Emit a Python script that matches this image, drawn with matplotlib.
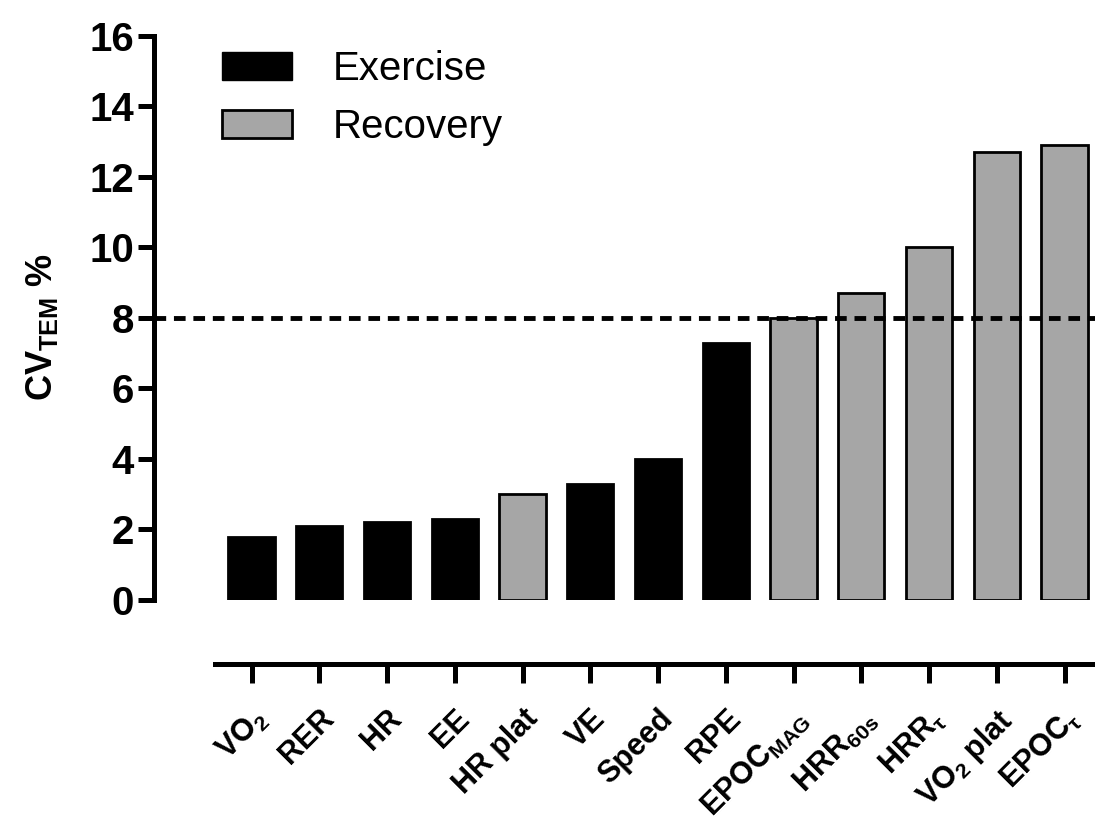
import matplotlib
matplotlib.use("Agg")
import matplotlib.pyplot as plt
from matplotlib.patches import Patch
import numpy as np

# CV (TEM %) for each measure, sorted as in the figure
labels = ["VO$_2$", "RER", "HR", "EE", "HR plat", "VE", "Speed", "RPE",
          "EPOC$_{MAG}$", "HRR$_{60s}$", "HRR$_\\tau$", "VO$_2$ plat", "EPOC$_\\tau$"]
values = [1.8, 2.1, 2.2, 2.3, 3.0, 3.3, 4.0, 7.3, 8.0, 8.7, 10.0, 12.7, 12.9]
phase = ["Exercise", "Exercise", "Exercise", "Exercise", "Recovery", "Exercise",
         "Exercise", "Exercise", "Recovery", "Recovery", "Recovery", "Recovery", "Recovery"]
threshold = 8

plt.rcParams["font.family"] = ["Liberation Sans", "DejaVu Sans"]
plt.rcParams["mathtext.fontset"] = "custom"
plt.rcParams["mathtext.rm"] = "Liberation Sans:bold"
plt.rcParams["mathtext.bf"] = "Liberation Sans:bold"
plt.rcParams["mathtext.it"] = "Liberation Sans:italic"
plt.rcParams["mathtext.default"] = "bf"

colors = {"Exercise": "black", "Recovery": "#a6a6a6"}

fig = plt.figure(figsize=(10.95, 8.27), dpi=100)
ax = fig.add_axes([0.1406, 0.2745, 0.8594, 0.682])

x = np.arange(len(values))
ax.bar(x, values, width=0.68, color=[colors[p] for p in phase],
       edgecolor="black", linewidth=2, zorder=2)
ax.axhline(threshold, color="black", linestyle=(0, (2.4, 1.6)), linewidth=3.5, zorder=3)

ax.set_xlim(-1.44, 12.45)
ax.set_ylim(0, 16)
ax.set_yticks(np.arange(0, 17, 2))
for lab in ax.get_yticklabels():
    lab.set_fontweight("bold")
ax.tick_params(axis="y", labelsize=29, width=3.6, length=11.5, pad=3)

ax.spines["top"].set_visible(False)
ax.spines["right"].set_visible(False)
ax.spines["left"].set_linewidth(3.6)
ax.spines["bottom"].set_linewidth(3.6)
ax.spines["bottom"].set_position(("outward", 46))
ax.spines["bottom"].set_bounds(-0.54, 12.45)

ax.set_xticks(x)
ax.set_xticklabels(labels, rotation=45, ha="right", rotation_mode="anchor",
                   fontsize=22, fontweight="bold")
ax.tick_params(axis="x", width=3.6, length=13.7, pad=15)

ax.set_ylabel(r"CV$_{TEM}$ %", fontsize=26, fontweight="bold")
ax.yaxis.set_label_coords(-0.1, 0.484)

handles = [Patch(facecolor="black", edgecolor="black", label="Exercise"),
           Patch(facecolor=colors["Recovery"], edgecolor="black", linewidth=2, label="Recovery")]
ax.legend(handles=handles, loc="upper left", bbox_to_anchor=(222 / 1095, 1 - 50 / 827),
          bbox_transform=fig.transFigure, frameon=False, borderpad=0, borderaxespad=0,
          fontsize=29, handlelength=1.74, handleheight=0.69, handletextpad=1.0, labelspacing=0.5)

fig.savefig("out.png", dpi=100)
